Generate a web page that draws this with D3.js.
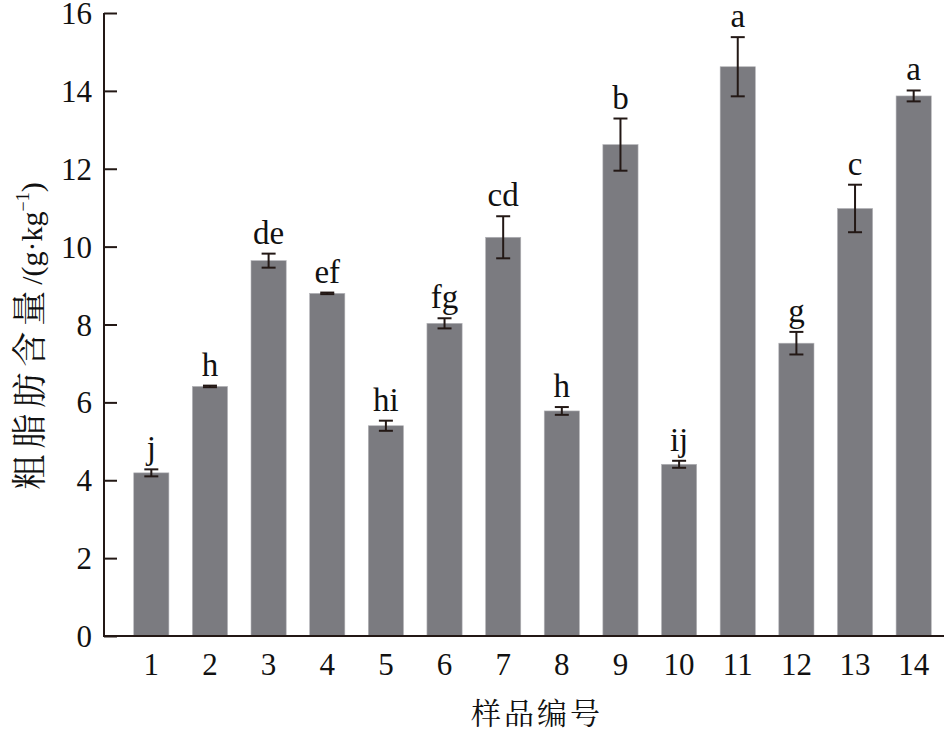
<!DOCTYPE html>
<html>
<head>
<meta charset="utf-8">
<script src="https://cdn.jsdelivr.net/npm/d3@7"></script>
<style>
  body { margin: 0; background: #fff; }
  svg { display: block; }
</style>
</head>
<body>
<svg id="chart"></svg>
<script>
var samples = ["1", "2", "3", "4", "5", "6", "7", "8", "9", "10", "11", "12", "13", "14"];
var fatValues = [4.19, 6.41, 9.64, 8.80, 5.40, 8.03, 10.24, 5.78, 12.62, 4.41, 14.62, 7.52, 10.98, 13.87];
var fatErrors = [0.09, 0.02, 0.18, 0.02, 0.13, 0.13, 0.54, 0.10, 0.67, 0.09, 0.76, 0.29, 0.61, 0.14];
var sigLetters = ["j", "h", "de", "ef", "hi", "fg", "cd", "h", "b", "ij", "a", "g", "c", "a"];
var yTicks = [0, 2, 4, 6, 8, 10, 12, 14, 16];

var width = 945, height = 734;
var axisColor = "#231815";
var latin = "'Liberation Serif', 'Times New Roman', serif";
var cjk = "'Noto Serif CJK SC', 'Noto Sans CJK SC', sans-serif";

var data = samples.map(function (s, i) {
    return {sample: s, value: fatValues[i], err: fatErrors[i], sig: sigLetters[i]};
});

var svg = d3.select("#chart")
    .attr("width", width)
    .attr("height", height);

var xScale = d3.scaleBand()
    .domain(samples)
    .range([122, 943])
    .paddingInner(0.4)
    .paddingOuter(0.2);

var yScale = d3.scaleLinear()
    .domain([0, 16])
    .range([636, 13]);

// bars
svg.selectAll(".bar")
    .data(data)
    .enter().append("rect")
    .attr("class", "bar")
    .attr("x", function (d) { return xScale(d.sample); })
    .attr("y", function (d) { return yScale(d.value); })
    .attr("width", xScale.bandwidth())
    .attr("height", function (d) { return yScale(0) - yScale(d.value); })
    .attr("fill", "#7b7b80")
    .attr("stroke", "#b4b4b8")
    .attr("stroke-width", 0.6);

// error bars
var errG = svg.append("g")
    .attr("stroke", axisColor)
    .attr("stroke-width", 2);
data.forEach(function (d) {
    var cx = xScale(d.sample) + xScale.bandwidth() / 2;
    var top = yScale(d.value + d.err), bot = yScale(d.value - d.err);
    errG.append("line").attr("x1", cx).attr("x2", cx).attr("y1", top).attr("y2", bot);
    errG.append("line").attr("x1", cx - 7).attr("x2", cx + 7).attr("y1", top).attr("y2", top);
    errG.append("line").attr("x1", cx - 7).attr("x2", cx + 7).attr("y1", bot).attr("y2", bot);
});

// significance letters
svg.selectAll(".sig")
    .data(data)
    .enter().append("text")
    .attr("class", "sig")
    .attr("x", function (d) { return xScale(d.sample) + xScale.bandwidth() / 2; })
    .attr("y", function (d) { return yScale(d.value + d.err) - 10; })
    .attr("text-anchor", "middle")
    .attr("font-family", latin)
    .attr("font-size", "33px")
    .attr("fill", "#111")
    .text(function (d) { return d.sig; });

// y axis
var yAxis = svg.append("g")
    .attr("transform", "translate(104,0)")
    .call(d3.axisRight(yScale).tickValues(yTicks).tickSize(13).tickFormat(d3.format("d")));
yAxis.select(".domain").attr("stroke", axisColor).attr("stroke-width", 2)
    .attr("d", "M0," + yScale(16) + "V" + yScale(0));
yAxis.selectAll(".tick line").attr("stroke", axisColor).attr("stroke-width", 2);
yAxis.selectAll(".tick text")
    .attr("x", -12)
    .attr("dy", "0.34em")
    .attr("text-anchor", "end")
    .attr("font-family", latin)
    .attr("font-size", "31px")
    .attr("fill", "#111");

// x axis
var xAxis = svg.append("g")
    .attr("transform", "translate(0," + yScale(0) + ")")
    .call(d3.axisBottom(xScale).tickSize(0));
xAxis.select(".domain").attr("stroke", axisColor).attr("stroke-width", 2)
    .attr("d", "M103,0H944");
xAxis.selectAll(".tick text")
    .attr("y", 39)
    .attr("dy", 0)
    .attr("font-family", latin)
    .attr("font-size", "31px")
    .attr("fill", "#111");

// axis titles
svg.append("text")
    .attr("x", 537)
    .attr("y", 724)
    .attr("text-anchor", "middle")
    .attr("font-family", cjk)
    .attr("font-size", "30px")
    .attr("letter-spacing", "3px")
    .attr("fill", "#111")
    .text("样品编号");

var yTitle = svg.append("text")
    .attr("transform", "translate(42,336) rotate(-90)")
    .attr("text-anchor", "middle")
    .attr("fill", "#111");
yTitle.append("tspan")
    .attr("font-family", cjk)
    .attr("font-size", "35px")
    .attr("letter-spacing", "6px")
    .text("粗脂肪含量");
yTitle.append("tspan")
    .attr("font-family", latin)
    .attr("font-size", "30px")
    .text("/(g·kg");
yTitle.append("tspan")
    .attr("font-family", latin)
    .attr("font-size", "18px")
    .attr("dy", -13)
    .text("−1");
yTitle.append("tspan")
    .attr("font-family", latin)
    .attr("font-size", "30px")
    .attr("dy", 13)
    .text(")");
</script>
</body>
</html>
